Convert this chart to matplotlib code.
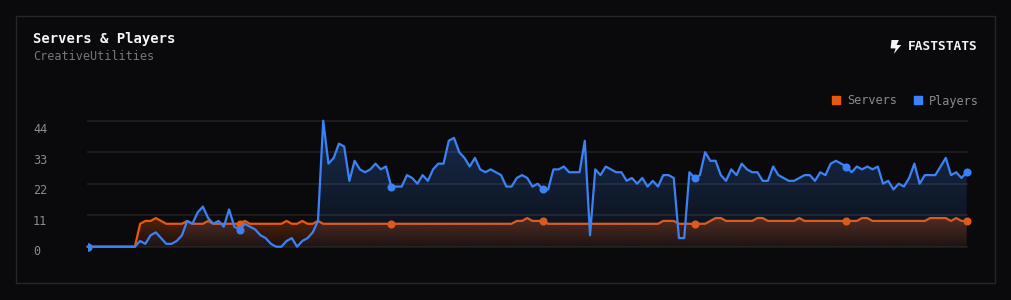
import numpy as np
import matplotlib
matplotlib.use("Agg")
from matplotlib import pyplot as plt
from matplotlib import patches, transforms
from matplotlib.colors import to_rgb
from matplotlib.lines import Line2D

# hourly samples (7 days + 1)
servers = [0, 0, 0, 0, 0, 0, 0, 0, 0, 0,
           8, 9, 9, 10, 9, 8, 8, 8, 8, 9,
           8, 8, 8, 9, 8, 8, 8, 8, 8, 8,
           9, 8, 8, 8, 8, 8, 8, 8, 9, 8,
           8, 9, 8, 8, 9, 8, 8, 8, 8, 8,
           8, 8, 8, 8, 8, 8, 8, 8, 8, 8,
           8, 8, 8, 8, 8, 8, 8, 8, 8, 8,
           8, 8, 8, 8, 8, 8, 8, 8, 8, 8,
           8, 8, 9, 9, 10, 9, 9, 9, 8, 8,
           8, 8, 8, 8, 8, 8, 8, 8, 8, 8,
           8, 8, 8, 8, 8, 8, 8, 8, 8, 8,
           9, 9, 9, 8, 8, 8, 8, 8, 8, 9,
           10, 10, 9, 9, 9, 9, 9, 9, 10, 10,
           9, 9, 9, 9, 9, 9, 10, 9, 9, 9,
           9, 9, 9, 9, 9, 9, 9, 9, 10, 10,
           9, 9, 9, 9, 9, 9, 9, 9, 9, 9,
           9, 10, 10, 10, 10, 9, 10, 9, 9]
players = [0, 0, 0, 0, 0, 0, 0, 0, 0, 0,
           2, 1, 4, 5, 3, 1, 1, 2, 4, 9,
           8, 12, 14, 10, 8, 9, 7, 13, 7, 6,
           8, 7, 6, 4, 3, 1, 0, 0, 2, 3,
           0, 2, 3, 5, 9, 44, 29, 31, 36, 35,
           23, 30, 27, 26, 27, 29, 27, 28, 21, 21,
           21, 25, 24, 22, 25, 23, 27, 29, 29, 37,
           38, 33, 31, 28, 31, 27, 26, 27, 26, 25,
           21, 21, 24, 25, 24, 21, 22, 20, 20, 27,
           27, 28, 26, 26, 26, 37, 4, 27, 25, 28,
           27, 26, 26, 23, 24, 22, 24, 21, 23, 21,
           25, 25, 24, 3, 3, 26, 24, 25, 33, 30,
           30, 25, 23, 27, 25, 29, 27, 26, 26, 23,
           23, 28, 25, 24, 23, 23, 24, 25, 25, 23,
           26, 25, 29, 30, 29, 28, 26, 28, 27, 28,
           27, 28, 22, 23, 20, 22, 21, 24, 29, 22,
           25, 25, 25, 28, 31, 25, 26, 24, 26]
dot_idx = [0, 29, 58, 87, 116, 145, 168]
y_ticks = [0, 11, 22, 33, 44]
series_names = ["Servers", "Players"]

W, H = 1012, 300
bg = "#0a0a0c"
orange = "#ea580c"
blue = "#3b82f6"
grey = "#8b8b90"


def fx(x):
    return x / W


def fy(y):
    return 1 - y / H


fig = plt.figure(figsize=(W / 100, H / 100), dpi=100, facecolor=bg)
fig.patches.append(patches.Rectangle((fx(16), fy(283)), fx(979), (283 - 16) / H,
                                     transform=fig.transFigure, facecolor=bg,
                                     edgecolor="#26262a", linewidth=1.0, zorder=-5))

ax = fig.add_axes([fx(87.8), fy(246.7), fx(966.7 - 87.8), (246.7 - 120.7) / H])
ax.set_facecolor("none")
x = np.arange(len(players))
ax.set_xlim(0, len(players) - 1)
ax.set_ylim(0, 44)
for s in ax.spines.values():
    s.set_visible(False)
ax.set_xticks([])
ax.set_yticks([])
for v in y_ticks:
    ax.axhline(v, color="#1e1e22", linewidth=1.3, zorder=0, clip_on=False)

# y tick labels, sitting a bit below each grid line
blend = transforms.blended_transform_factory(ax.transAxes, ax.transData)
for v in y_ticks:
    off = transforms.offset_copy(blend, fig=fig, x=0, y=-(8.6 + v * 0.092), units="dots")
    ax.text((33 - 87.8) / (966.7 - 87.8), v, str(v), transform=off, ha="left",
            va="baseline", color=grey, fontsize=8.5, family="DejaVu Sans Mono")


def gradient_area(vals, color, a_top, a_bot, z):
    vals = np.asarray(vals, dtype=float)
    top = vals.max()
    poly = ax.fill_between(x, 0, vals, facecolor="none", edgecolor="none")
    n = 256
    rgba = np.zeros((n, 1, 4))
    rgba[:, 0, :3] = to_rgb(color)
    rgba[:, 0, 3] = np.linspace(a_top, a_bot, n)
    im = ax.imshow(rgba, extent=[0, len(vals) - 1, 0, top], aspect="auto",
                   origin="upper", zorder=z, interpolation="bilinear")
    im.set_clip_path(poly.get_paths()[0], transform=ax.transData)


gradient_area(servers, orange, 0.32, 0.08, 1)
ax.plot(x, servers, color=orange, linewidth=1.6, zorder=2, clip_on=False)
gradient_area(players, blue, 0.30, 0.04, 3)
ax.plot(x, players, color=blue, linewidth=1.6, zorder=4, clip_on=False)

# dots are cut only at the left edge of the plot
dot_clip = patches.Rectangle((0, -0.5), 1.5, 2.0, transform=ax.transAxes)
for series, col, z in [(servers, orange, 2.5), (players, blue, 4.5)]:
    xs = [x[i] for i in dot_idx]
    ys = [series[i] for i in dot_idx]
    dots, = ax.plot(xs, ys, "o", color=col, markersize=4.8, zorder=z)
    dots.set_clip_path(dot_clip)

# header
fig.text(fx(33), fy(39.5), "Servers & Players", color="#f4f4f5", fontsize=10,
         fontweight="bold", family="DejaVu Sans Mono", ha="left", va="center")
fig.text(fx(33), fy(57), "CreativeUtilities", color="#75757a", fontsize=8.6,
         family="DejaVu Sans Mono", ha="left", va="center")
fig.text(fx(978), fy(46.5), "FASTSTATS", color="#f4f4f5", fontsize=9.3,
         fontweight="bold", family="DejaVu Sans Mono", ha="right", va="center")
bolt = [(891.5, 40), (898.8, 40), (896.6, 45), (901.2, 45), (893.8, 54),
        (895.6, 48.4), (890.6, 48.4)]
fig.patches.append(patches.Polygon([(fx(a), fy(b)) for a, b in bolt], closed=True,
                                   transform=fig.transFigure, facecolor="#f4f4f5",
                                   edgecolor="none"))

handles = [Line2D([], [], marker="s", linestyle="none", color=c, markersize=5.2)
           for c in (orange, blue)]
leg = ax.legend(handles, series_names, loc="center right", ncol=2, frameon=False,
                bbox_to_anchor=(fx(979), fy(101)), bbox_transform=fig.transFigure,
                prop={"family": "DejaVu Sans Mono", "size": 8.6}, handlelength=0.6,
                handletextpad=0.6, columnspacing=1.5, borderpad=0, borderaxespad=0)
for t in leg.get_texts():
    t.set_color(grey)

fig.savefig("out.png", dpi=100, facecolor=bg)
